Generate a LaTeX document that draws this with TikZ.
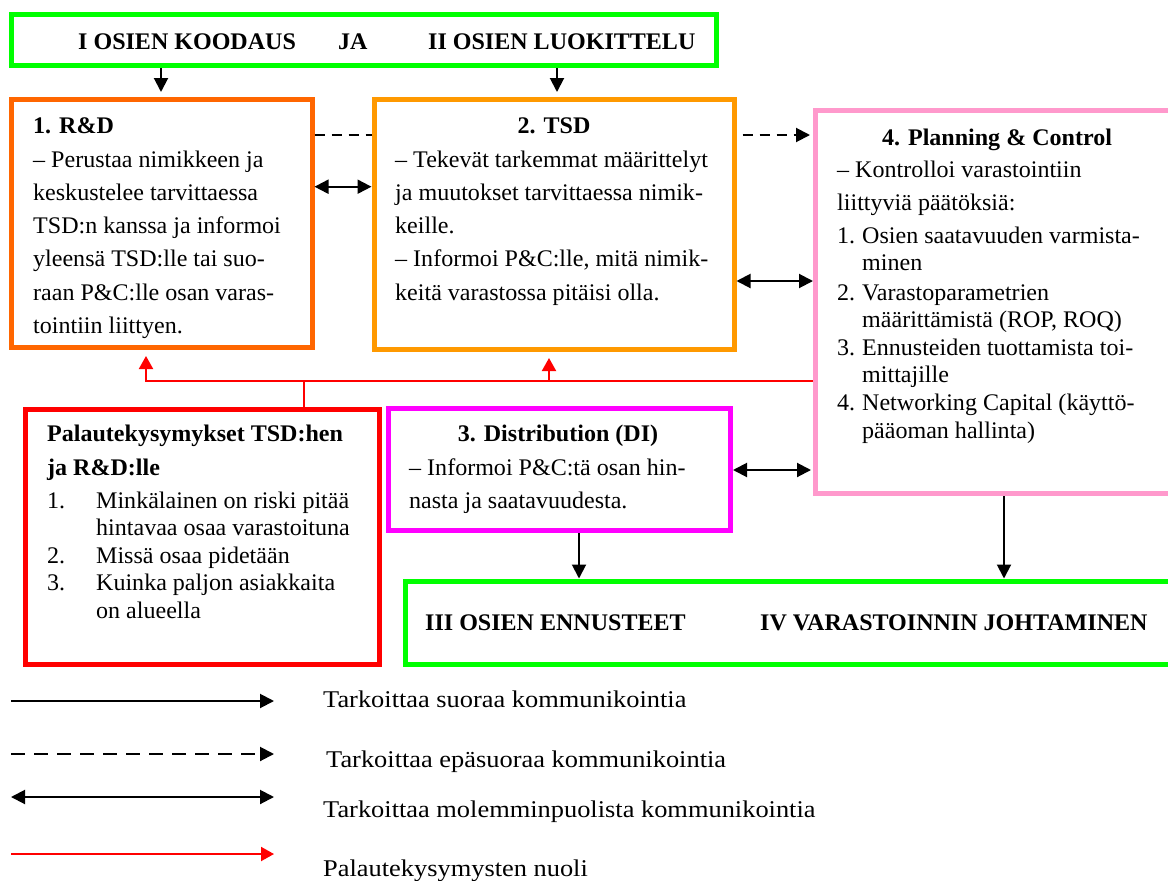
\documentclass[tikz,border=0pt]{standalone}
\usepackage{fontspec}
\setmainfont{Liberation Serif}
\newfontfamily\diagfont[FakeStretch=1.01]{Liberation Serif}
\newfontfamily\legendfont[FakeStretch=1.1]{Liberation Serif}
\usetikzlibrary{arrows.meta}

\definecolor{phasegreen}{RGB}{0,255,0}
\definecolor{rdorange}{RGB}{255,102,0}
\definecolor{tsdorange}{RGB}{255,153,0}
\definecolor{pcpink}{RGB}{255,153,204}
\definecolor{dimagenta}{RGB}{255,0,255}
\definecolor{fbred}{RGB}{255,0,0}

% list labels inside the boxes
\newcommand\pcitem[1]{\makebox[25pt][l]{#1}}
\newcommand\palitem[1]{\makebox[49pt][l]{#1}}
% multi-line text whose baseline is that of its first line
\newcommand\textblock[1]{\begin{tabular}[t]{@{}l@{}}#1\end{tabular}}

\begin{document}
\begin{tikzpicture}[x=1pt,y=-1pt,
  frame/.style={draw=#1, line width=5pt, inner sep=0pt, anchor=north west},
  txt/.style={anchor=base west, inner sep=0pt,
    font=\diagfont\fontsize{23.8}{33.3}\selectfont},
  headtxt/.style={anchor=base west, inner sep=0pt,
    font=\diagfont\fontsize{23.8}{28}\selectfont\bfseries},
  legtxt/.style={anchor=base west, inner sep=0pt,
    font=\legendfont\fontsize{24}{28}\selectfont},
  arr/.style={line width=2pt, -{Triangle[length=14pt,width=14pt]}},
  dblarr/.style={line width=2pt, {Triangle[length=14pt,width=14pt]}-{Triangle[length=14pt,width=14pt]}},
  dasharr/.style={line width=2pt, dash pattern=on 10pt off 7pt, -{Triangle[length=14pt,width=14pt]}},
  dashline/.style={line width=2pt, dash pattern=on 10pt off 7pt},
  redline/.style={draw=fbred, line width=2pt},
  redarr/.style={draw=fbred, line width=2pt, -{Triangle[length=13pt,width=14pt]}},
]
\clip (0,0) rectangle (1168,881);

% ---- boxes ----
\node[frame=phasegreen, minimum width=704.5pt, minimum height=51pt] (top) at (9,12) {};
\node[frame=rdorange,   minimum width=301pt,   minimum height=248pt] (rd)  at (8.5,97) {};
\node[frame=tsdorange,  minimum width=360pt,   minimum height=250pt] (tsd) at (371.5,97) {};
\node[frame=pcpink,     minimum width=367pt,   minimum height=383pt] (pc)  at (813,108) {};
\node[frame=fbred,      minimum width=353.5pt, minimum height=255pt] (pal) at (23,406.5) {};
\node[frame=dimagenta,  minimum width=342.5pt, minimum height=122.5pt] (dist) at (385.5,405.5) {};
\node[frame=phasegreen, minimum width=777.5pt, minimum height=83.5pt] (bot) at (402.5,578.5) {};

% ---- phase headings ----
\node[headtxt] (koodaus) at (78,49) {I OSIEN KOODAUS};
\node[headtxt] (ja) at (338,49) {JA};
\node[headtxt] (luokittelu) at (428,49) {II OSIEN LUOKITTELU};
\node[headtxt] (ennusteet) at (425,630) {III OSIEN ENNUSTEET};
\node[headtxt] (johtaminen) at (760,630) {IV VARASTOINNIN JOHTAMINEN};

% ---- 1. R&D ----
\node[txt] (rdtitle) at (33,133) {\bfseries 1. R\&D};
\node[txt] (rdbody) at (33,167) {\textblock{– Perustaa nimikkeen ja\\keskustelee tarvittaessa\\TSD:n kanssa ja informoi\\yleensä TSD:lle tai suo-\\raan P\&C:lle osan varas-\\tointiin liittyen.}};

% ---- 2. TSD ----
\node[txt, anchor=base] (tsdtitle) at (554,133) {\bfseries 2. TSD};
\node[txt] (tsdbody) at (395,167) {\textblock{– Tekevät tarkemmat määrittelyt\\ja muutokset tarvittaessa nimik-\\keille.\\– Informoi P\&C:lle, mitä nimik-\\keitä varastossa pitäisi olla.}};

% ---- 4. Planning & Control ----
\node[txt, anchor=base] (pctitle) at (997,145) {\bfseries 4. Planning \& Control};
\node[txt, font=\diagfont\fontsize{23.8}{27.3}\selectfont] (pcbody) at (837,177) {\textblock{– Kontrolloi varastointiin\\[5.7pt]liittyviä päätöksiä:\\[5.7pt]\pcitem{1.}Osien saatavuuden varmista-\\\pcitem{}minen\\[2.7pt]\pcitem{2.}Varastoparametrien\\\pcitem{}määrittämistä (ROP, ROQ)\\[0.7pt]\pcitem{3.}Ennusteiden tuottamista toi-\\\pcitem{}mittajille\\[0.7pt]\pcitem{4.}Networking Capital (käyttö-\\\pcitem{}pääoman hallinta)}};

% ---- feedback questions ----
\node[txt, font=\diagfont\fontsize{23.8}{27.5}\selectfont] (palbody) at (47,441.7) {\textblock{\textbf{Palautekysymykset TSD:hen}\\[5.8pt]\textbf{ja R\&D:lle}\\[5.5pt]\palitem{1.}Minkälainen on riski pitää\\\palitem{}hintavaa osaa varastoituna\\\palitem{2.}Missä osaa pidetään\\\palitem{3.}Kuinka paljon asiakkaita\\\palitem{}on alueella}};

% ---- 3. Distribution ----
\node[txt, anchor=base] (disttitle) at (558,441.7) {\bfseries 3. Distribution (DI)};
\node[txt] (distbody) at (409,475) {\textblock{– Informoi P\&C:tä osan hin-\\nasta ja saatavuudesta.}};

% ---- connectors ----
\draw[arr, shorten >=5pt] (top.south -| 161,0) -- (rd.north -| 161,0);
\draw[arr, shorten >=5pt] (top.south -| 557,0) -- (tsd.north -| 557,0);
\draw[dashline] (rd.east |- 0,135) -- (tsd.west |- 0,135);
\draw[dblarr] (rd.east |- 0,186.7) -- (tsd.west |- 0,186.7);
\draw[dasharr, shorten <=6pt, shorten >=3pt] (tsd.east |- 0,135) -- (pc.west |- 0,135);
\draw[dblarr] (tsd.east |- 0,281) -- (pc.west |- 0,281);
\draw[dblarr, shorten >=2pt] (dist.east |- 0,470) -- (pc.west |- 0,470);
\draw[arr] (dist.south -| 579,0) -- (bot.north -| 579,0);
\draw[arr] (pc.south -| 1004,0) -- (bot.north -| 1004,0);

% feedback arrows back to R&D and TSD
\coordinate (fb) at (304,381);
\draw[redline] (pal.north -| fb) -- (fb);
\draw[redarr, shorten >=6pt] (pc.west |- fb) -| (rd.south -| 146,0);
\draw[redarr, shorten >=6pt] (fb -| 549,0) -- (tsd.south -| 549,0);

% ---- legend ----
\coordinate (l1a) at (11,701);  \coordinate (l1b) at (274,701);
\coordinate (l2a) at (11,754);  \coordinate (l2b) at (274,754);
\coordinate (l3a) at (11,797);  \coordinate (l3b) at (274,797);
\coordinate (l4a) at (11,854);  \coordinate (l4b) at (274,854);
\draw[arr] (l1a) -- (l1b);
\draw[line width=2pt, dash pattern=on 14pt off 9pt, -{Triangle[length=14pt,width=14pt]}] (l2a) -- (l2b);
\draw[dblarr] (l3a) -- (l3b);
\draw[redarr] (l4a) -- (l4b);
\node[legtxt] (leg1) at (323,707) {Tarkoittaa suoraa kommunikointia};
\node[legtxt] (leg2) at (326,767) {Tarkoittaa epäsuoraa kommunikointia};
\node[legtxt] (leg3) at (323,817) {Tarkoittaa molemminpuolista kommunikointia};
\node[legtxt] (leg4) at (323,876) {Palautekysymysten nuoli};
\end{tikzpicture}
\end{document}
